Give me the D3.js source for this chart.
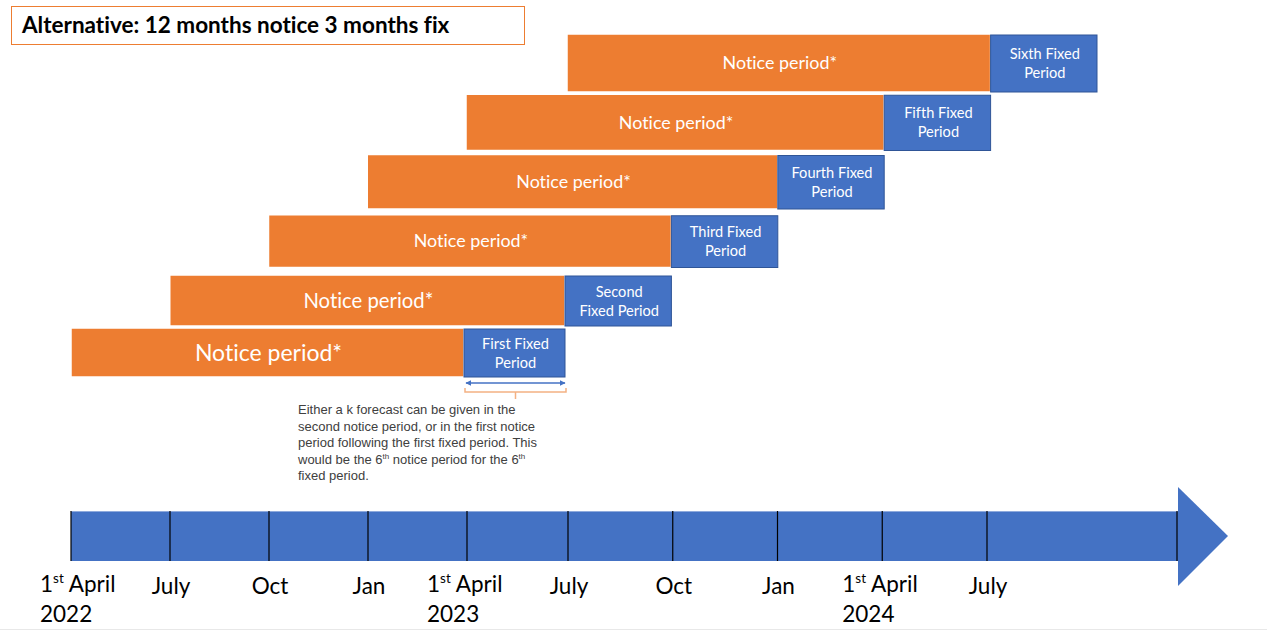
<!DOCTYPE html>
<html>
<head>
<meta charset="utf-8">
<script src="https://cdn.jsdelivr.net/npm/d3@7"></script>
<style>
  body { margin: 0; background: #fff; }
  svg { display: block; font-variant-ligatures: none; }
</style>
</head>
<body>
<div id="chart"></div>
<script>
// quarters along the time axis (index 0 = 1st April 2022)
var quarterIdx = [0, 1, 2, 3, 4, 5, 6, 7, 8, 9];
var quarterMain = ['1st April', 'July', 'Oct', 'Jan', '1st April', 'July', 'Oct', 'Jan', '1st April', 'July'];
var quarterYear = ['2022', '', '', '', '2023', '', '', '', '2024', ''];

// rows: 12 month notice followed by a 3 month fixed period
var rows = [0, 1, 2, 3, 4, 5];
var noticeStart = [0, 1, 2, 3, 4, 5];
var noticeEnd = [4, 5, 6, 7, 8, 9];
var fixedStart = [4, 5, 6, 7, 8, 9];
var fixedEnd = [5, 6, 7, 8, 9, 10];
var noticeLabel = 'Notice period*';
var fixedLabels = [
  ['First Fixed', 'Period'],
  ['Second', 'Fixed Period'],
  ['Third Fixed', 'Period'],
  ['Fourth Fixed', 'Period'],
  ['Fifth Fixed', 'Period'],
  ['Sixth Fixed', 'Period']
];
var titleText = 'Alternative: 12 months notice 3 months fix';
var noteLines = [
  ['Either a k forecast can be given in the'],
  ['second notice period, or in the first notice'],
  ['period following the first fixed period. This'],
  ['would be the 6', 'th', ' notice period for the 6', 'th'],
  ['fixed period.']
];

var W = 1267, H = 631;
var orange = '#ED7D31', blue = '#4472C4', blueDark = '#2F5597';
var calibri = 'Lato, Carlito, Calibri, sans-serif';

var svg = d3.select('#chart').append('svg')
  .attr('width', W).attr('height', H);

svg.append('rect').attr('width', W).attr('height', H).attr('fill', '#fff');

// quarter scales (hand drawn slide, so slightly uneven)
var x = d3.scaleLinear().domain([0, 4, 5, 10]).range([71, 466, 567, 1099]);
var xAxis = d3.scaleLinear().domain([0, 4, 5, 9]).range([71, 467, 568, 987]);
var yTop = d3.scaleLinear().domain([0, 1, 5]).range([328, 275, 34]);
var yBot = d3.scaleLinear().domain([0, 1, 5]).range([377, 326, 92]);

// title box
svg.append('rect')
  .attr('x', 11.5).attr('y', 6.5).attr('width', 513).attr('height', 38)
  .attr('fill', '#fff').attr('stroke', orange).attr('stroke-width', 1);
svg.append('text')
  .attr('x', 22).attr('y', 33)
  .attr('font-family', calibri).attr('font-weight', 700).attr('font-size', 22.5)
  .attr('fill', '#000')
  .text(titleText);

// notice bars
var g = svg.append('g');
g.selectAll('rect.notice').data(rows).enter()
  .append('rect').attr('class', 'notice')
  .attr('x', function (d) { return x(noticeStart[d]); })
  .attr('y', function (d) { return yTop(d); })
  .attr('width', function (d) { return x(noticeEnd[d]) - x(noticeStart[d]) - 2; })
  .attr('height', function (d) { return yBot(d) - yTop(d); })
  .attr('fill', orange).attr('stroke', '#fff').attr('stroke-width', 1.5);

g.selectAll('text.notice').data(rows).enter()
  .append('text').attr('class', 'notice')
  .attr('x', function (d) { return (x(noticeStart[d]) + x(noticeEnd[d])) / 2; })
  .attr('y', function (d) { return (yTop(d) + yBot(d)) / 2; })
  .attr('dy', '0.35em')
  .attr('text-anchor', 'middle')
  .attr('font-family', calibri)
  .attr('font-size', function (d) { return d === 0 ? 23 : (d === 1 ? 20.3 : 17.9); })
  .attr('fill', '#fff')
  .text(noticeLabel);

// fixed periods
g.selectAll('rect.fixed').data(rows).enter()
  .append('rect').attr('class', 'fixed')
  .attr('x', function (d) { return x(fixedStart[d]) - 2; })
  .attr('y', function (d) { return yTop(d) + 1; })
  .attr('width', function (d) { return x(fixedEnd[d]) - x(fixedStart[d]); })
  .attr('height', function (d) { return yBot(d) - yTop(d) - 1; })
  .attr('fill', blue).attr('stroke', blueDark).attr('stroke-width', 1);

var fl = g.selectAll('text.fixed').data(rows).enter()
  .append('text').attr('class', 'fixed')
  .attr('text-anchor', 'middle')
  .attr('font-family', calibri).attr('font-size', 14.6)
  .attr('fill', '#fff');
fl.each(function (d) {
  var cx = (x(fixedStart[d]) + x(fixedEnd[d])) / 2 - 1;
  var cy = (yTop(d) + yBot(d)) / 2;
  d3.select(this).selectAll('tspan').data(fixedLabels[d]).enter()
    .append('tspan')
    .attr('x', cx)
    .attr('y', function (t, i) { return cy - 4 + i * 19; })
    .text(function (t) { return t; });
});

// bracket under first fixed period
var bx0 = x(fixedStart[0]) - 1, bx1 = x(fixedEnd[0]) - 1;
var defs = svg.append('defs');
defs.append('marker').attr('id', 'ah')
  .attr('viewBox', '0 0 10 10').attr('refX', 9).attr('refY', 5)
  .attr('markerWidth', 4).attr('markerHeight', 4).attr('orient', 'auto-start-reverse')
  .append('path').attr('d', 'M0,0 L10,5 L0,10 Z').attr('fill', blue);
svg.append('line')
  .attr('x1', bx0 + 1).attr('x2', bx1 - 1).attr('y1', 383).attr('y2', 383)
  .attr('stroke', blue).attr('stroke-width', 1.5)
  .attr('marker-start', 'url(#ah)').attr('marker-end', 'url(#ah)');
svg.append('path')
  .attr('d', 'M' + bx0 + ',388 L' + bx0 + ',392 L' + bx1 + ',392 L' + bx1 + ',388 M' +
    ((bx0 + bx1) / 2) + ',392 L' + ((bx0 + bx1) / 2) + ',399')
  .attr('fill', 'none').attr('stroke', '#F4B183').attr('stroke-width', 1.5);

// note text
var note = svg.append('text')
  .attr('font-family', 'Liberation Sans, Arial, sans-serif')
  .attr('font-size', 13).attr('fill', '#404040');
noteLines.forEach(function (parts, i) {
  parts.forEach(function (p, j) {
    var sup = (j % 2 === 1);
    var t = note.append('tspan').text(p);
    if (j === 0) t.attr('x', 298).attr('y', 414 + i * 16.6);
    if (sup) t.attr('font-size', 8).attr('dy', -5);
    else if (j > 0) t.attr('dy', 5);
  });
});

// time axis arrow
var axisY0 = 511, axisY1 = 561;
var axisEnd = 1178;
svg.append('rect')
  .attr('x', xAxis(0)).attr('y', axisY0)
  .attr('width', axisEnd - xAxis(0)).attr('height', axisY1 - axisY0)
  .attr('fill', blue);
svg.append('line')
  .attr('x1', xAxis(0)).attr('x2', axisEnd).attr('y1', axisY0 + 0.5).attr('y2', axisY0 + 0.5)
  .attr('stroke', '#8FAADC').attr('stroke-width', 1);
svg.append('path')
  .attr('d', 'M' + axisEnd + ',487 L1228,536 L' + axisEnd + ',586 Z')
  .attr('fill', blue);

svg.selectAll('line.tick').data(quarterIdx.concat([-1])).enter()
  .append('line').attr('class', 'tick')
  .attr('x1', function (d) { return d < 0 ? axisEnd - 1 : xAxis(d); })
  .attr('x2', function (d) { return d < 0 ? axisEnd - 1 : xAxis(d); })
  .attr('y1', axisY0).attr('y2', axisY1)
  .attr('stroke', '#000').attr('stroke-width', 1.2);

// tick labels
var lab = svg.selectAll('text.qlab').data(quarterIdx).enter()
  .append('text').attr('class', 'qlab')
  .attr('font-family', calibri).attr('font-size', 22.5).attr('fill', '#000');
lab.each(function (d) {
  var t = d3.select(this);
  var main = quarterMain[d];
  if (quarterYear[d]) {
    var lx = d === 0 ? xAxis(d) - 31 : xAxis(d) - 40;
    t.append('tspan').attr('x', lx).attr('y', 592).text('1');
    t.append('tspan').attr('font-size', 13.5).attr('dy', -9).text('st');
    t.append('tspan').attr('dy', 9).text(' April');
    t.append('tspan').attr('x', lx).attr('y', 622).text(quarterYear[d]);
  } else {
    t.attr('x', xAxis(d) + 1).attr('y', 594).attr('text-anchor', 'middle').text(main);
  }
});

// faint bottom edge
svg.append('line')
  .attr('x1', 0).attr('x2', W).attr('y1', 629.5).attr('y2', 629.5)
  .attr('stroke', '#e8e8e8').attr('stroke-width', 1);
</script>
</body>
</html>
